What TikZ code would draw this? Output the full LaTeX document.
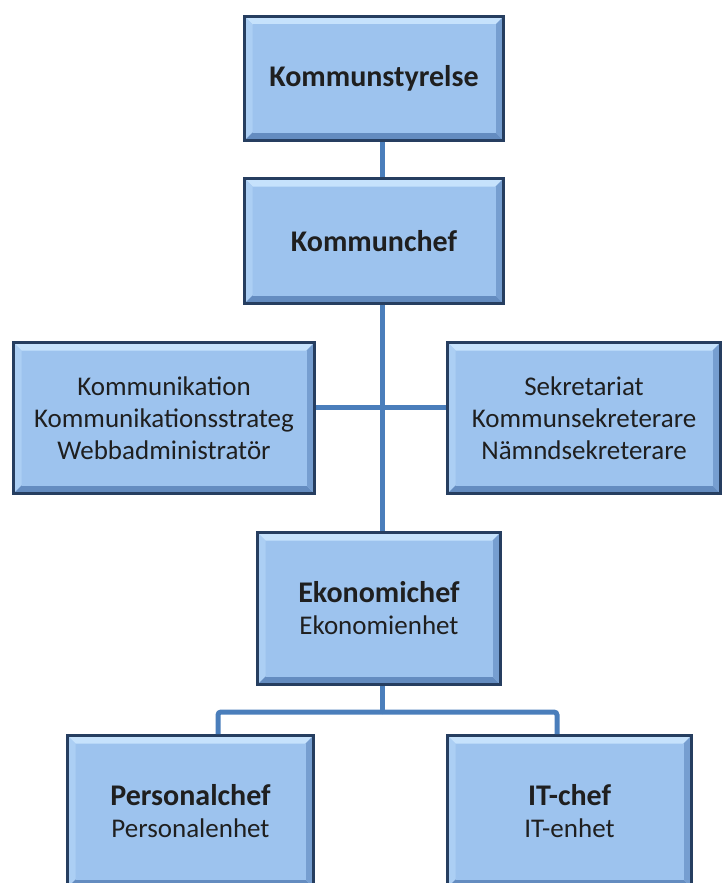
\documentclass[tikz,border=0pt]{standalone}
\usepackage{fontspec}
\setmainfont{Carlito}
\usetikzlibrary{calc}
\definecolor{boxfill}{RGB}{157,195,238}
\definecolor{boxline}{RGB}{38,62,96}
\definecolor{bevtop}{RGB}{198,226,252}
\definecolor{bevleft}{RGB}{172,207,244}
\definecolor{bevbottom}{RGB}{100,140,192}
\definecolor{bevright}{RGB}{118,158,208}
\definecolor{linkblue}{RGB}{74,126,187}
\def\bev#1#2#3#4#5{\fill[#1] (path picture bounding box.#2) -- (path picture bounding box.#3) -- ([shift={#5}]path picture bounding box.#3) -- ([shift={#4}]path picture bounding box.#2) -- cycle;}
\def\rubrik#1{{\fontsize{30}{34}\selectfont\bfseries #1}}

\tikzset{
	orgbox/.style 2 args={draw=boxline, line width=3pt, fill=boxfill, inner sep=0pt,
		minimum width=#1pt, minimum height=#2pt, align=center, text=black!88,
		font=\fontsize{27}{32}\selectfont,
		path picture={
			\bev{bevtop}{north west}{north east}{(8pt,-8pt)}{(-8pt,-8pt)}
			\bev{bevleft}{north west}{south west}{(8pt,-8pt)}{(8pt,8pt)}
			\bev{bevbottom}{south west}{south east}{(8pt,8pt)}{(-8pt,8pt)}
			\bev{bevright}{north east}{south east}{(-8pt,-8pt)}{(-8pt,8pt)}
			\fill[boxfill] ([shift={(8pt,-8pt)}]path picture bounding box.north west) rectangle ([shift={(-8pt,8pt)}]path picture bounding box.south east);
		}},
	link/.style={draw=linkblue, line width=5pt, rounded corners=3pt}
}

\begin{document}
\begin{tikzpicture}[x=1pt, y=-1pt]
		%%%%% START %%%%%
		\useasboundingbox (0, 0) rectangle (724, 883);
		
		\node[orgbox={259}{124}] (styr) at (374, 78.5) {\rubrik{Kommunstyrelse}};
		\node[orgbox={259}{125}] (chef) at (374, 241) {\rubrik{Kommunchef}};
		
		\node[orgbox={301}{151}] (komm) at (164, 418) {Kommunikation\\Kommunikationsstrateg\\Webbadministratör};
		\node[orgbox={273}{151}] (sekr) at (584, 418) {Sekretariat\\Kommunsekreterare\\Nämndsekreterare};
		
		\node[orgbox={243}{152}] (ekon) at (379, 608.5) {\rubrik{Ekonomichef}\\Ekonomienhet};
		
		\node[orgbox={246}{152}] (pers) at (190.5, 811.5) {\rubrik{Personalchef}\\Personalenhet};
		\node[orgbox={244}{152}] (itc) at (569.5, 811.5) {\rubrik{IT-chef}\\IT-enhet};
		
		% stammen och grenarna
		\coordinate (stam) at (382, 407);
		\coordinate (gren) at (382, 712);
		
		\draw[link] (styr.south -| stam) -- (chef.north -| stam);
		\draw[link] (chef.south -| stam) -- (ekon.north -| stam);
		\draw[link] (komm.east |- stam) -- (sekr.west |- stam);
		\draw[link] (ekon.south -| gren) -- (gren);
		\draw[link] (gren) -| ($(pers.north)+(27.5, 0)$);
		\draw[link] (gren) -| ($(itc.north)+(-12.5, 0)$);
		
		%%%%% END %%%%%
	\end{tikzpicture}
\end{document}
